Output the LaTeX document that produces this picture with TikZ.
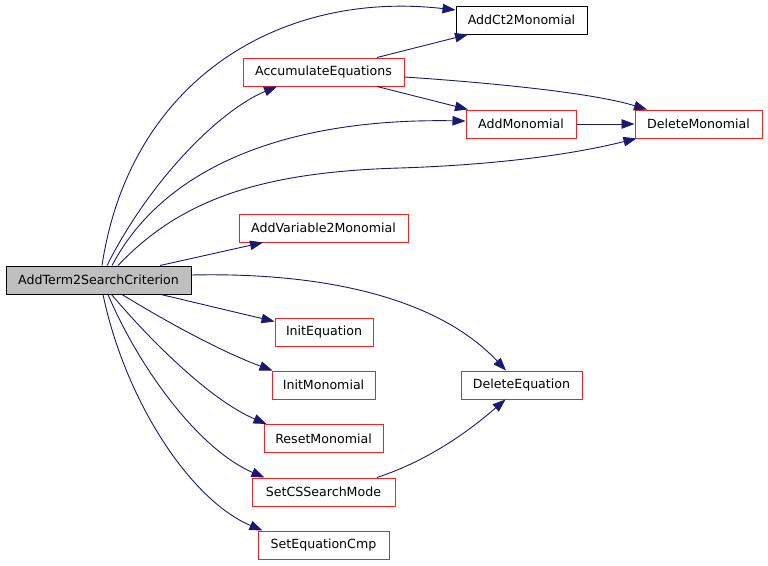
\documentclass[tikz,border=0pt]{standalone}
\usepackage{fontspec}
\setmainfont{DejaVu Sans}
\usetikzlibrary{arrows.meta}
\definecolor{edgeblue}{RGB}{25,25,112}
\definecolor{boxred}{RGB}{255,30,30}
\definecolor{boxgray}{RGB}{191,191,191}
\begin{document}
\begin{tikzpicture}[x=1pt,y=-1pt,
  fn/.style={draw=boxred,line width=1pt,fill=white,rectangle,inner sep=0pt,minimum height=28pt,font=\fontsize{12.6}{15}\selectfont},
  fnblack/.style={fn,draw=black},
  fnroot/.style={fn,draw=black,fill=boxgray},
  call/.style={draw=edgeblue,line width=0.9pt,-{Triangle[length=13pt,width=9.5pt]}}]
\useasboundingbox (0,0) rectangle (768,565);
\node[fnroot,minimum width=185pt] (t) at (98.5,280) {AddTerm2SearchCriterion};
\node[fn,minimum width=161pt] (acc) at (323.5,72) {AccumulateEquations};
\node[fn,minimum width=169pt] (av2m) at (323.5,228) {AddVariable2Monomial};
\node[fnblack,minimum width=131pt] (ct2) at (521.5,20) {AddCt2Monomial};
\node[fn,minimum width=110pt] (addm) at (521,124) {AddMonomial};
\node[fn,minimum width=127pt] (delm) at (698.5,124) {DeleteMonomial};
\node[fn,minimum width=98pt] (ieq) at (324,332) {InitEquation};
\node[fn,minimum width=103pt] (imon) at (323.5,385) {InitMonomial};
\node[fn,minimum width=119pt] (rmon) at (323.5,438.5) {ResetMonomial};
\node[fn,minimum width=143pt] (cs) at (323.5,492) {SetCSSearchMode};
\node[fn,minimum width=131pt] (eqc) at (323.5,545) {SetEquationCmp};
\node[fn,minimum width=121pt] (deq) at (521.5,385) {DeleteEquation};

\draw[call] ([xshift=3.5pt]t.north) .. controls (130,80) and (280,-10) .. ([yshift=10pt]ct2.west);
\draw[call] ([xshift=8.5pt]t.north) .. controls (150,180) and (220,110) .. ([xshift=-46.5pt]acc.south);
\draw[call] ([xshift=13.5pt]t.north) .. controls (165,165) and (290,118) .. ([yshift=3pt]addm.west);
\draw[call] ([xshift=19.5pt]t.north) .. controls (180,200) and (260,172) .. (400,168) .. controls (520,164) and (590,150) .. ([xshift=2pt]delm.south west);
\draw[call] ([xshift=61.5pt]t.north) -- ([xshift=-60.5pt]av2m.south);
\draw[call] ([yshift=5pt]t.east) .. controls (330,272) and (440,300) .. ([xshift=-15.5pt]deq.north);
\draw[call] ([xshift=62.5pt]t.south) -- ([yshift=-4pt]ieq.north west);
\draw[call] ([xshift=23.5pt]t.south) .. controls (180,330) and (230,355) .. ([xshift=1pt]imon.north west);
\draw[call] ([xshift=13pt]t.south) .. controls (150,340) and (210,400) .. ([xshift=3pt]rmon.north west);
\draw[call] ([xshift=9.5pt]t.south) .. controls (140,370) and (200,450) .. ([xshift=13pt]cs.north west);
\draw[call] ([xshift=4.5pt]t.south) .. controls (125,400) and (190,500) .. ([xshift=5pt]eqc.north west);
\draw[call] ([xshift=53.5pt]acc.north) -- ([xshift=-53.5pt]ct2.south);
\draw[call] ([yshift=-5pt]acc.east) .. controls (480,82) and (590,92) .. ([xshift=-51.5pt]delm.north);
\draw[call] ([xshift=53.5pt]acc.south) -- ([xshift=-53pt]addm.north);
\draw[call] (addm.east) -- (delm.west);
\draw[call] ([xshift=53.5pt]cs.north) .. controls (430,460) and (470,430) .. ([xshift=-16pt]deq.south);
\end{tikzpicture}
\end{document}
